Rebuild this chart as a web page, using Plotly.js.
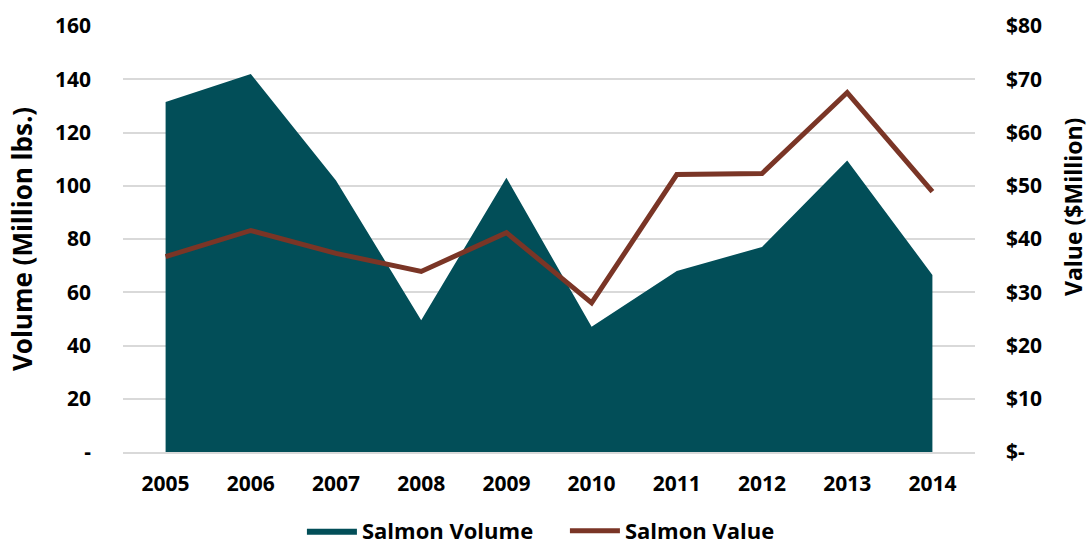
<!DOCTYPE html>
<html>
<head>
<meta charset="utf-8">
<script src="https://cdn.plot.ly/plotly-3.0.1.min.js"></script>
<style>html,body{margin:0;padding:0;background:#fff;}#chart{width:1091px;height:544px;}</style>
</head>
<body>
<div id="chart"></div>
<script>
const years = ["2005","2006","2007","2008","2009","2010","2011","2012","2013","2014"];
const salmonVolume = [131.5, 142, 102, 49.5, 103, 47, 68, 77, 109.5, 66.5];
const salmonValue = [36.7, 41.6, 37.3, 33.9, 41.2, 28.0, 52.1, 52.3, 67.5, 48.9];
const leftTickVals = [0, 20, 40, 60, 80, 100, 120, 140, 160];
const leftTickText = ["-", "20", "40", "60", "80", "100", "120", "140", "160"];
const rightTickVals = [0, 10, 20, 30, 40, 50, 60, 70, 80];
const rightTickText = ["$-", "$10", "$20", "$30", "$40", "$50", "$60", "$70", "$80"];

const FAM = "Open Sans, sans-serif";
const tickFont = {family: FAM, size: 21, color: "#000", weight: "bold"};
const titleFont = {family: FAM, size: 26, color: "#000", weight: "bold"};
const rightTitleFont = {family: FAM, size: 23, color: "#000", weight: "bold"};

const traces = [
  {
    x: years, y: salmonVolume, name: "Salmon Volume", type: "scatter", mode: "lines",
    fill: "tozeroy", fillcolor: "#024E58", line: {width: 0, color: "#024E58"},
    yaxis: "y"
  },
  {
    x: years, y: salmonValue, name: "Salmon Value", type: "scatter", mode: "lines",
    line: {width: 5, color: "#7A3526"}, yaxis: "y2"
  }
];

const layout = {
  width: 1091, height: 544,
  margin: {l: 123, r: 116, t: 26, b: 92},
  paper_bgcolor: "#fff", plot_bgcolor: "#fff",
  font: tickFont,
  showlegend: true,
  legend: {orientation: "h", x: 0.21, xanchor: "left", xref: "paper",
           y: 0.024, yref: "container", yanchor: "middle",
           font: {family: FAM, size: 22, color: "#000", weight: "bold"},
           entrywidth: 198, entrywidthmode: "pixels",
           itemwidth: 50, tracegroupgap: 0},
  xaxis: {
    type: "category", range: [-0.5, 9.5], showgrid: false, zeroline: false,
    showline: true, linecolor: "#d9d9d9", linewidth: 2, automargin: false,
    ticks: "", ticklabelstandoff: 12, tickfont: tickFont
  },
  yaxis: {
    range: [0, 160], tickvals: leftTickVals, ticktext: leftTickText,
    showgrid: true, gridcolor: "#d9d9d9", gridwidth: 2, zeroline: false,
    ticks: "", ticklabelstandoff: 31, tickfont: tickFont, automargin: false,
    title: {text: "Volume (Million lbs.)", font: titleFont, standoff: 14}
  },
  yaxis2: {
    range: [0, 80], tickvals: rightTickVals, ticktext: rightTickText,
    overlaying: "y", side: "right", showgrid: false, zeroline: false,
    ticks: "", ticklabelstandoff: 30, tickfont: tickFont, automargin: false
  },
  annotations: [
    {text: "Value ($Million)", textangle: -90, xref: "paper", yref: "paper",
     x: 1.1150, y: 0.575, xanchor: "center", yanchor: "middle",
     showarrow: false, font: rightTitleFont}
  ]
};

Plotly.newPlot("chart", traces, layout, {displayModeBar: false, staticPlot: true});
</script>
</body>
</html>
